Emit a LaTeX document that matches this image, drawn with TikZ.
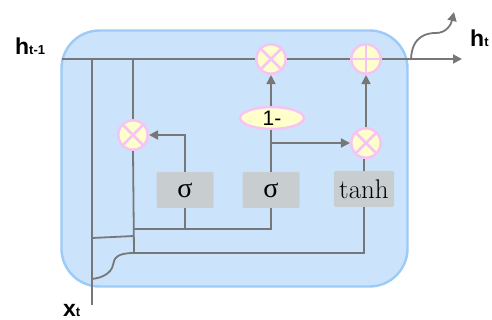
\documentclass[tikz,border=0pt]{standalone}
\usepackage{fontspec}
\usepackage{tikz}
\usetikzlibrary{positioning,arrows.meta,shapes.geometric,calc}
\newfontfamily\labelfont{Liberation Sans}
\newfontfamily\greekfont{Liberation Serif}
\definecolor{ink}     {HTML}{777777}
\definecolor{cellfill}{HTML}{CCE4FB}
\definecolor{celledge}{HTML}{9CCBF7}
\definecolor{opfill}  {HTML}{FFFFCC}
\definecolor{opedge}  {HTML}{F5C4F4}
\definecolor{gatefill}{HTML}{C8CDD0}
\tikzset{
  % --- nodes
  cell/.style  = {rectangle, rounded corners=38pt, draw=celledge, fill=cellfill,
                  line width=2.4pt, minimum width=346pt, minimum height=256pt},
  op/.style    = {circle, draw=opedge, fill=opfill, line width=2.6pt,
                  minimum size=29.5pt, inner sep=0pt},
  mul/.style   = {op, path picture={\draw[opedge, line width=2.6pt]
                    (path picture bounding box.north west) -- (path picture bounding box.south east)
                    (path picture bounding box.north east) -- (path picture bounding box.south west);}},
  add/.style   = {op, path picture={\draw[opedge, line width=2.6pt]
                    (path picture bounding box.north) -- (path picture bounding box.south)
                    (path picture bounding box.west) -- (path picture bounding box.east);}},
  gate/.style  = {rectangle, rounded corners=1.5pt, fill=gatefill, inner sep=0pt,
                  minimum width=57pt, minimum height=36pt},
  sig/.style   = {gate, font=\greekfont\fontsize{28}{28}\selectfont},
  inv/.style   = {ellipse, draw=opedge, fill=opfill, line width=2.6pt, inner sep=0pt,
                  minimum width=64pt, minimum height=22pt,
                  font=\labelfont\fontsize{21}{21}\selectfont},
  lbl/.style   = {anchor=base west, inner sep=0pt,
                  font=\labelfont\bfseries\fontsize{23}{23}\selectfont},
  % --- edges
  wire/.style  = {draw=ink, line width=1.8pt},
  arr/.style   = {wire, -{Triangle[length=9pt,width=9pt]}},
}
\newcommand{\sub}[1]{{\fontsize{13}{13}\selectfont #1}}

\begin{document}
\begin{tikzpicture}[x=1pt, y=-1pt]
  \useasboundingbox (0,0) rectangle (492,320);

  % ------------------------------------------------------------------ cell
  \node[cell] (cell) at (234.5,158.5) {};

  % ------------------------------------------------------------------ labels
  \node[lbl] (hprev) at (15,55)  {h\sub{t-1}};
  \node[lbl] (hnext) at (470,47) {h\sub{t}};
  \node[lbl] (xin)   at (63,316) {x\sub{t}};

  % ------------------------------------------------------------------ operators
  \node[mul] (mr)  at (133,135) {};
  \node[mul] (mz)  at (271,59)  {};
  \node[add] (sum) at (366,59)  {};
  \node[mul] (mh)  at (366,143) {};
  \node[inv] (one) at (272,118) {1-};

  % ------------------------------------------------------------------ gates
  \node[sig]  (sr) at (185,190) {σ};
  \node[sig]  (sz) at (271,190) {σ};
  \node[gate, minimum width=60pt, font=\fontsize{27}{27}\selectfont]
              (th) at (364,189) {tanh};

  % ------------------------------------------------------------------ points
  \coordinate (hin)  at (62,59);
  \coordinate (hout) at (462,59);
  \coordinate (up)   at (454,12);
  \coordinate (tap)  at (411,59);
  \coordinate (xa)   at (92,59);
  \coordinate (xb)   at (92,305);
  \coordinate (ra)   at (133,59);
  \coordinate (rb)   at (134,253);
  \coordinate (g)    at (134,229);
  \coordinate (ja)   at (92,238);
  \coordinate (jb)   at (134,236);
  \coordinate (jc)   at (92,279);

  % ------------------------------------------------------------------ state line
  \draw[wire] (hin) -- (mz.west);
  \draw[wire] (mz.east) -- (sum.west);
  \draw[arr]  (sum.east) -- (hout);
  \draw[arr]  (tap) .. controls (412,35) and (428,33) .. (436,33)
                    .. controls (446,33) and (451,25) .. (up);

  % ------------------------------------------------------------------ inputs
  \draw[wire] (xa) -- (xb);
  \draw[wire] (ra) -- (mr.north);
  \draw[wire] (mr.south) -- (rb);
  \draw[wire] (ja) -- (jb);
  \draw[wire] (g) -- (g -| sz.south) -- (sz.south);
  \draw[wire] (g -| sr.south) -- (sr.south);
  \draw[wire] (rb) -- (rb -| th.south) -- (th.south);
  \draw[wire] (rb) .. controls (117,253) and (114,258) .. (113,265)
                   .. controls (111,274) and (101,278) .. (jc);

  % ------------------------------------------------------------------ gate outputs
  \draw[arr]  (sr.north) |- (mr.east);
  \draw[wire] (sz.north) -- (sz.north |- one.south);
  \draw[arr]  (one.north -| mz) -- (mz.south);
  \draw[arr]  (sz.north |- mh) -- (mh.west);
  \draw[wire] (th.north) -- (th.north |- mh.south);
  \draw[arr]  (mh.north) -- (sum.south);
\end{tikzpicture}
\end{document}
